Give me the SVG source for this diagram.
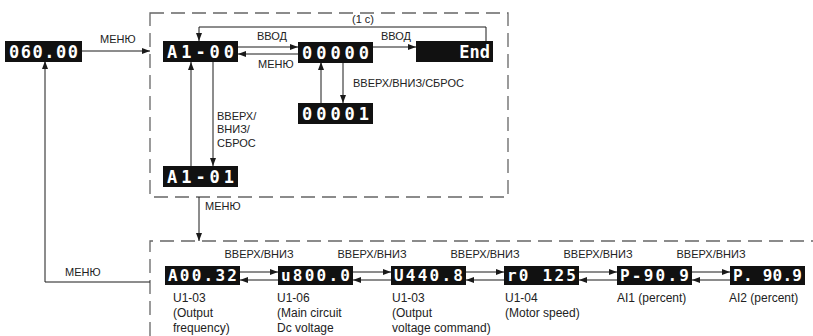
<svg xmlns="http://www.w3.org/2000/svg" width="813" height="336" viewBox="0 0 813 336">
<defs>
<marker id="ah" markerWidth="8" markerHeight="6" refX="8" refY="3" orient="auto" markerUnits="userSpaceOnUse">
<path d="M0,0 L8,3 L0,6 z" fill="#1a1a1a"/>
</marker>
<style>
.frame{fill:none;stroke:#666;stroke-width:1.3;stroke-dasharray:14 7}
.conn{fill:none;stroke:#1a1a1a;stroke-width:1;marker-end:url(#ah)}
.disp{fill:#111}
.seg{font-family:"DejaVu Sans Mono","Liberation Mono",monospace;font-weight:bold;fill:#fff}
.top{font-size:17px}
.bot{font-size:16px}
.lbl{font-family:"Liberation Sans",Arial,sans-serif;font-size:11px;fill:#222}
.cap{font-family:"Liberation Sans",Arial,sans-serif;font-size:12px;fill:#222}
</style>
</defs>
<rect width="813" height="336" fill="#fff"/>

<g id="frames">
<path class="frame" d="M150,13 H508 V197 H150 Z"/>
<path class="frame" d="M150,336 V241 H813"/>
</g>

<g id="connectors">
<path class="conn" d="M82,51 H150"/>
<path class="conn" d="M238,47 H298"/>
<path class="conn" d="M298,54 H238"/>
<path class="conn" d="M373,47 H416"/>
<path class="conn" d="M486,41 V27 H199 V41"/>
<path class="conn" d="M321,103 V62"/>
<path class="conn" d="M343,62 V103"/>
<path class="conn" d="M191,166 V62"/>
<path class="conn" d="M213,62 V166"/>
<path class="conn" d="M199,197 V241"/>
<path class="conn" d="M150,282 H45 V61"/>
<path class="conn" d="M240,272 H278"/>
<path class="conn" d="M278,280 H240"/>
<path class="conn" d="M353,272 H391"/>
<path class="conn" d="M391,280 H353"/>
<path class="conn" d="M466,272 H504"/>
<path class="conn" d="M504,280 H466"/>
<path class="conn" d="M579,272 H617"/>
<path class="conn" d="M617,280 H579"/>
<path class="conn" d="M692,272 H730"/>
<path class="conn" d="M730,280 H692"/>
</g>

<g id="labels">
<text class="lbl" x="100" y="43">МЕНЮ</text>
<text class="lbl" x="257" y="40">ВВОД</text>
<text class="lbl" x="258" y="68">МЕНЮ</text>
<text class="lbl" x="381" y="40">ВВОД</text>
<text class="lbl" x="352" y="23">(1 с)</text>
<text class="lbl" x="353" y="87">ВВЕРХ/ВНИЗ/СБРОС</text>
<text class="lbl" x="217" y="120">ВВЕРХ/</text>
<text class="lbl" x="217" y="133">ВНИЗ/</text>
<text class="lbl" x="217" y="147">СБРОС</text>
<text class="lbl" x="205" y="210">МЕНЮ</text>
<text class="lbl" x="65" y="276">МЕНЮ</text>
<text class="lbl" x="259" y="258" text-anchor="middle">ВВЕРХ/ВНИЗ</text>
<text class="lbl" x="372" y="258" text-anchor="middle">ВВЕРХ/ВНИЗ</text>
<text class="lbl" x="485" y="258" text-anchor="middle">ВВЕРХ/ВНИЗ</text>
<text class="lbl" x="598" y="258" text-anchor="middle">ВВЕРХ/ВНИЗ</text>
<text class="lbl" x="711" y="258" text-anchor="middle">ВВЕРХ/ВНИЗ</text>
</g>

<g id="n-06000"><rect class="disp" x="5" y="41" width="77" height="21"/><text class="seg top" x="9" y="58" textLength="69">060.00</text></g>
<g id="n-a1-00"><rect class="disp" x="163" y="41" width="75" height="21"/><text class="seg top" x="167" y="58" textLength="67">A1-00</text></g>
<g id="n-00000"><rect class="disp" x="298" y="42" width="75" height="21"/><text class="seg top" x="302" y="59" textLength="67">00000</text></g>
<g id="n-end"><rect class="disp" x="416" y="41" width="77" height="21"/><text class="seg top" x="490" y="58" text-anchor="end">End</text></g>
<g id="n-00001"><rect class="disp" x="298" y="103" width="75" height="21"/><text class="seg top" x="302" y="120" textLength="67">00001</text></g>
<g id="n-a1-01"><rect class="disp" x="163" y="166" width="75" height="21"/><text class="seg top" x="167" y="183" textLength="67">A1-01</text></g>

<g id="n-u1-03"><rect class="disp" x="165" y="266" width="75" height="19"/><text class="seg bot" x="168" y="281" textLength="69">A00.32</text>
<text class="cap" x="173" y="302">U1-03</text><text class="cap" x="173" y="317">(Output</text><text class="cap" x="173" y="332">frequency)</text></g>
<g id="n-u1-06"><rect class="disp" x="278" y="266" width="75" height="19"/><text class="seg bot" x="281" y="281" textLength="69">u800.0</text>
<text class="cap" x="277" y="302">U1-06</text><text class="cap" x="277" y="317">(Main circuit</text><text class="cap" x="277" y="332">Dc voltage</text></g>
<g id="n-u1-03b"><rect class="disp" x="391" y="266" width="75" height="19"/><text class="seg bot" x="394" y="281" textLength="69">U440.8</text>
<text class="cap" x="392" y="302">U1-03</text><text class="cap" x="392" y="317">(Output</text><text class="cap" x="392" y="332">voltage command)</text></g>
<g id="n-u1-04"><rect class="disp" x="504" y="266" width="75" height="19"/><text class="seg bot" x="507" y="281" textLength="69">r0 125</text>
<text class="cap" x="505" y="302">U1-04</text><text class="cap" x="505" y="317">(Motor speed)</text></g>
<g id="n-ai1"><rect class="disp" x="617" y="266" width="75" height="19"/><text class="seg bot" x="620" y="281" textLength="69">P-90.9</text>
<text class="cap" x="617" y="302">AI1 (percent)</text></g>
<g id="n-ai2"><rect class="disp" x="730" y="266" width="75" height="19"/><text class="seg bot" x="733" y="281" textLength="69">P. 90.9</text>
<text class="cap" x="729" y="302">AI2 (percent)</text></g>
</svg>
